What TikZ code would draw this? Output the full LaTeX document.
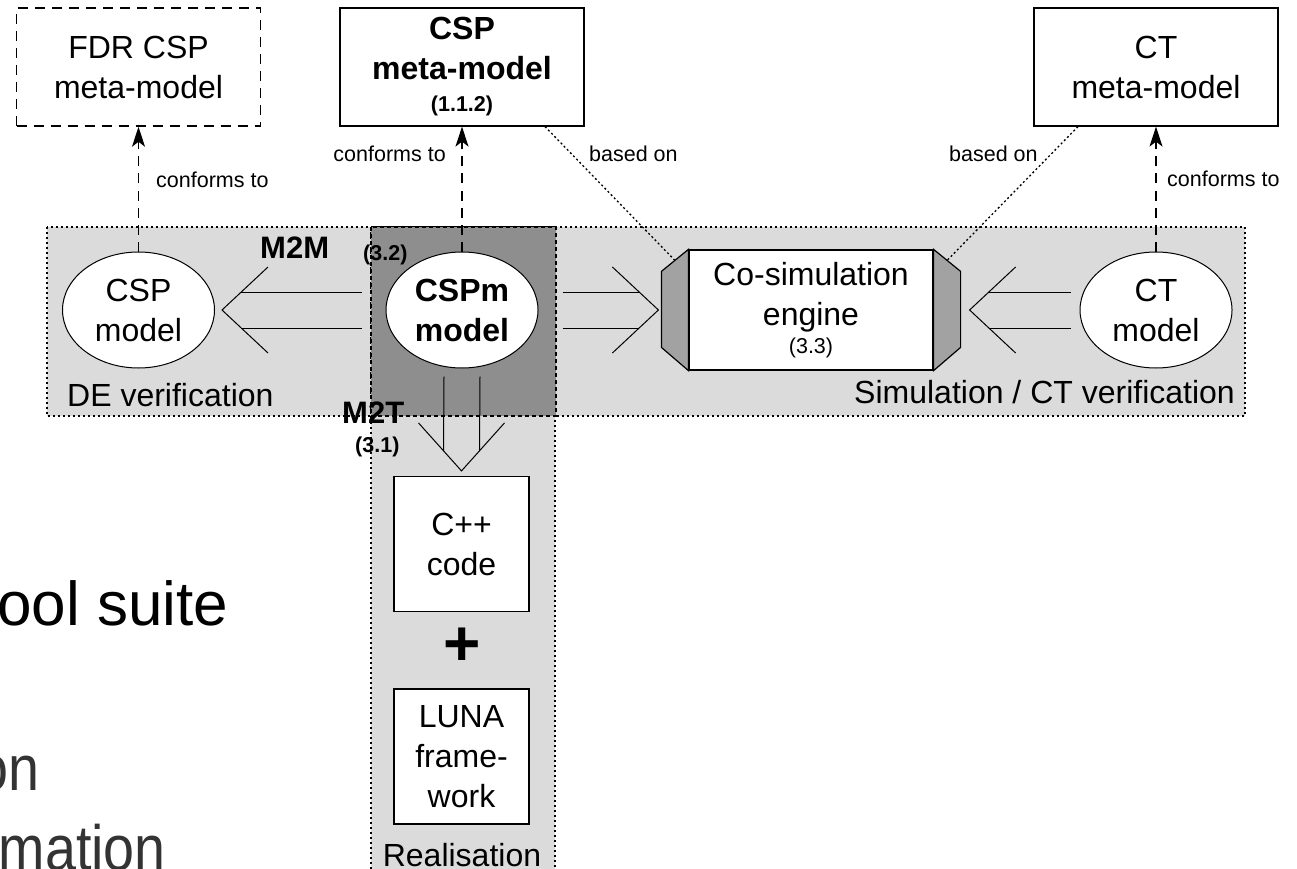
\documentclass[tikz,border=0pt]{standalone}
\usepackage{fontspec}
\setmainfont{Liberation Sans}
\usetikzlibrary{calc,arrows.meta,shapes.geometric}
\definecolor{bandgray}{HTML}{DBDBDB}
\definecolor{darkband}{HTML}{8E8E8E}
\definecolor{sidegray}{HTML}{A2A2A2}
\definecolor{subtext}{HTML}{333333}
\tikzset{
  big/.style={font=\fontsize{32}{40}\selectfont},
  bigbold/.style={font=\fontsize{32}{40}\selectfont\bfseries},
  small/.style={font=\fontsize{21.5}{26}\selectfont},
  smallbold/.style={font=\fontsize{21.5}{26}\selectfont\bfseries},
  transl/.style={font=\fontsize{31}{36}\selectfont\bfseries, inner sep=0pt},
  metabox/.style={draw, line width=1.2pt, fill=white, minimum width=244pt, minimum height=118pt, inner sep=0pt, align=center},
  codebox/.style={draw, line width=1.2pt, fill=white, minimum width=135pt, minimum height=135pt, inner sep=0pt, align=center},
  modelell/.style={ellipse, draw, line width=1pt, fill=white, minimum width=152pt, minimum height=116pt, inner sep=0pt, align=center},
  band/.style={fill=bandgray, draw, line width=1.3pt, dash pattern=on 2pt off 3pt},
  darkbox/.style={fill=darkband, draw, line width=1.2pt, dash pattern=on 4pt off 3pt},
  conforms/.style={line width=1.5pt, dash pattern=on 10pt off 7pt, -{Stealth[length=20pt,width=13pt,inset=5pt]}},
  basedon/.style={line width=1.3pt, dash pattern=on 2pt off 2.5pt},
  chev/.style={line width=1pt},
  lbl/.style={small, inner sep=0pt},
  slide/.style={inner sep=0pt},
}
\begin{document}
\begin{tikzpicture}[x=1pt,y=-1pt]
\useasboundingbox (0,0) rectangle (1297,869);
\clip (0,0) rectangle (1297,869);

% regions
\path[band] (47,227) rectangle (556,416);
\path[band] (371,227) rectangle (1245,416);
\path[band] (371,227) rectangle (555,900);
\path[darkbox] (371,227) rectangle (556,416);

\node[big, anchor=base west, inner sep=0pt] (delabel) at (67,406) {DE verification};
\node[big, anchor=base east, inner sep=0pt] (simlabel) at (1235,403) {Simulation / CT verification};
\node[big, anchor=base, inner sep=0pt] (reallabel) at (462,866) {Realisation};

% meta-models
\node[metabox, big, dash pattern=on 10pt off 7pt, line width=1.5pt] (fdr) at (138.5,67) {FDR CSP\\meta-model};
\node[metabox, bigbold] (cspmeta) at (462,67) {CSP\\meta-model\\[-8pt]{\fontsize{21.5}{26}\selectfont(1.1.2)}};
\node[metabox, big] (ctmeta) at (1156,67) {CT\\meta-model};

% models
\node[modelell, big] (cspmodel) at (138.5,310) {CSP\\model};
\node[modelell, bigbold] (cspm) at (462,310) {CSPm\\model};
\node[modelell, big] (ctmodel) at (1156,310) {CT\\model};

% co-simulation engine
\node[draw, line width=1.2pt, fill=white, minimum width=244pt, minimum height=120pt, inner sep=0pt, align=center, big] (cosim) at (811,310) {Co-simulation\\engine\\[-12pt]{\fontsize{21.5}{26}\selectfont(3.3)}};
\draw[fill=sidegray, line width=1.2pt] (cosim.north west) -- ++(-27,22) -- ++(0,76) -- (cosim.south west) -- cycle;
\draw[fill=sidegray, line width=1.2pt] (cosim.north east) -- ++(27,22) -- ++(0,76) -- (cosim.south east) -- cycle;

% realisation boxes
\node[codebox, big] (cpp) at (461.5,544) {C++\\code};
\node[font=\fontsize{64}{64}\selectfont\bfseries, inner sep=0pt] (plus) at (462,647) {+};
\node[codebox, big] (luna) at (461.5,756.5) {LUNA\\frame-\\work};

% conforms to
\draw[conforms] (cspmodel.north) -- (fdr.south);
\draw[conforms] (cspm.north) -- (cspmeta.south);
\draw[conforms] (ctmodel.north) -- (ctmeta.south);
\node[lbl, anchor=base west] (c1) at (156,187) {conforms to};
\node[lbl, anchor=base east] (c2) at (446,162) {conforms to};
\node[lbl, anchor=base west] (c3) at (1167,186) {conforms to};

% based on
\draw[basedon] ($(cspmeta.south)+(83,0)$) -- ($(cosim.north west)+(-13.5,11)$);
\draw[basedon] ($(ctmeta.south)+(-78,0)$) -- ($(cosim.north east)+(13.5,11)$);
\node[lbl, anchor=base west] (b1) at (589,162) {based on};
\node[lbl, anchor=base west] (b2) at (949,162) {based on};

% M2M transformation arrow
\coordinate (m2mtip) at ($(cspmodel.east)+(7,0)$);
\draw[chev] ($(cspm.west)+(-24,-18)$) -- ($(m2mtip)+(19,-18)$);
\draw[chev] ($(cspm.west)+(-24,18)$) -- ($(m2mtip)+(19,18)$);
\draw[chev] ($(m2mtip)+(46,-43)$) -- (m2mtip) -- ($(m2mtip)+(46,43)$);

% CSPm -> co-simulation
\coordinate (lt) at ($(cosim.west)+(-30,0)$);
\draw[chev] ($(cspm.east)+(24,-18)$) -- ($(lt)+(-19,-18)$);
\draw[chev] ($(cspm.east)+(24,18)$) -- ($(lt)+(-19,18)$);
\draw[chev] ($(lt)+(-46,-43)$) -- (lt) -- ($(lt)+(-46,43)$);

% CT model -> co-simulation
\coordinate (rt) at ($(cosim.east)+(36,0)$);
\draw[chev] ($(ctmodel.west)+(-9,-18)$) -- ($(rt)+(19,-18)$);
\draw[chev] ($(ctmodel.west)+(-9,18)$) -- ($(rt)+(19,18)$);
\draw[chev] ($(rt)+(46,-43)$) -- (rt) -- ($(rt)+(46,43)$);

% M2T transformation arrow
\coordinate (dt) at ($(cpp.north)+(0,-5)$);
\draw[chev] ($(cspm.south)+(-18,8)$) -- ($(dt)+(-18,-20)$);
\draw[chev] ($(cspm.south)+(18,8)$) -- ($(dt)+(18,-20)$);
\draw[chev] ($(dt)+(-43,-48)$) -- (dt) -- ($(dt)+(43,-48)$);

% transformation labels
\node[transl, anchor=base west] (m2m) at (260,258) {M2M};
\node[smallbold, inner sep=0pt, anchor=base west] (m2mref) at (363,260) {(3.2)};
\node[transl, anchor=base west] (m2t) at (342,423) {M2T};
\node[smallbold, inner sep=0pt, anchor=base west] (m2tref) at (355,452) {(3.1)};

% slide text behind
\node[slide, font=\fontsize{62}{62}\selectfont, anchor=base west] (suite) at (-3,625) {ool suite};
\node[slide, font=\fontsize{64}{64}\selectfont, text=subtext, anchor=base east] (on) at (40,790) {\scalebox{0.87}[1]{on}};
\node[slide, font=\fontsize{64}{64}\selectfont, text=subtext, anchor=base east] (mation) at (166,870) {\scalebox{0.87}[1]{mation}};
\end{tikzpicture}
\end{document}
